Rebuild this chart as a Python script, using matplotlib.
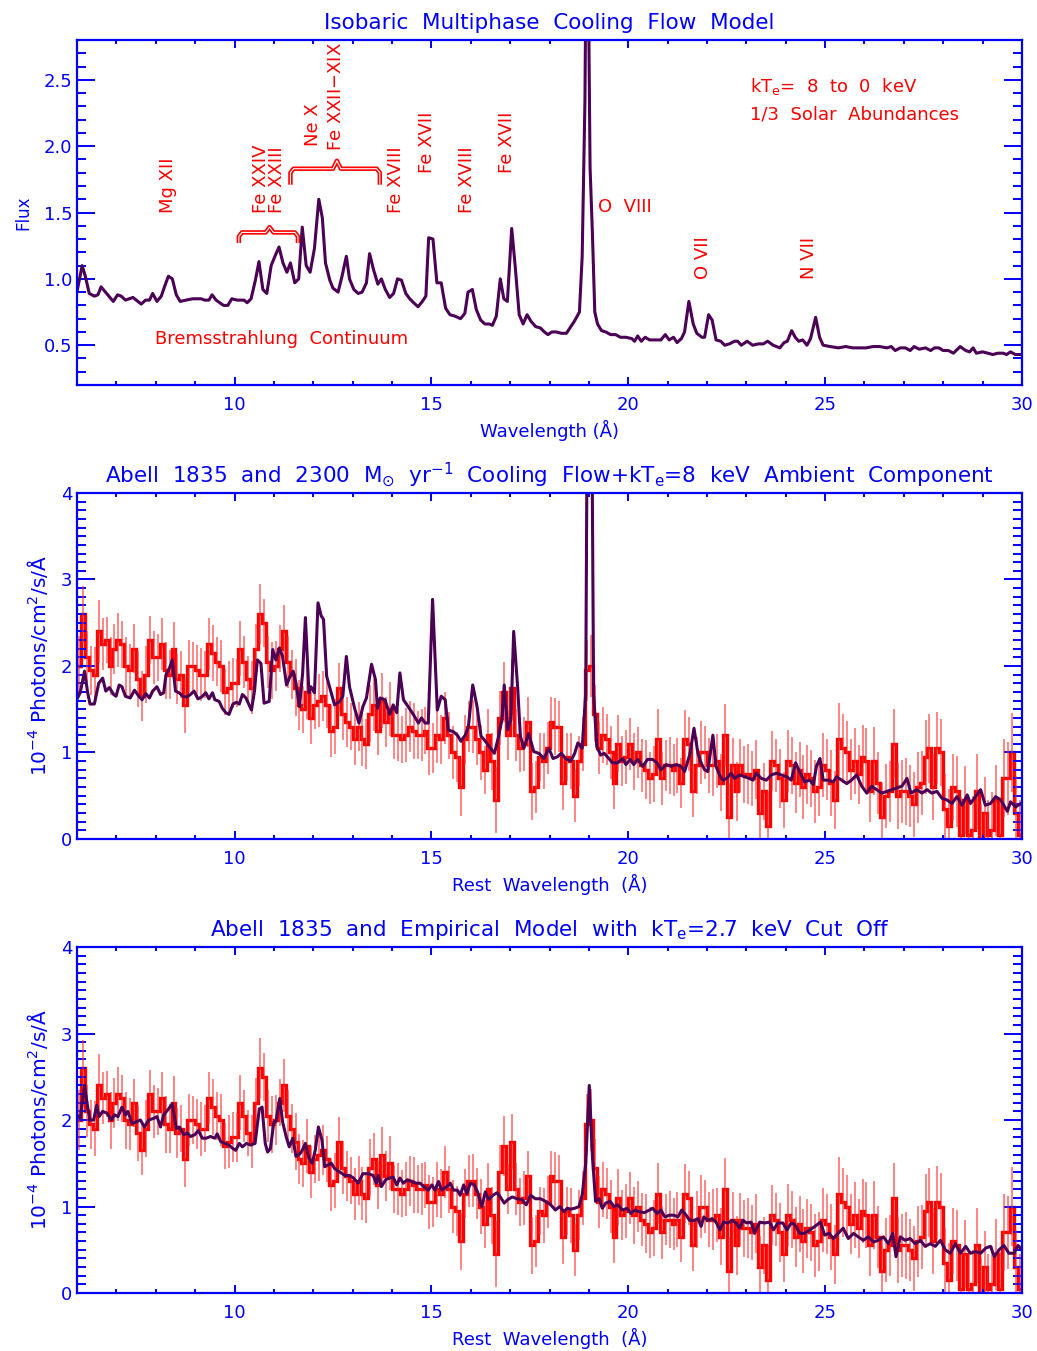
import numpy as np
import matplotlib
matplotlib.use("Agg")
import matplotlib.pyplot as plt
from matplotlib.ticker import MultipleLocator, FormatStrFormatter

plt.rcParams['font.family'] = ['DejaVu Sans']
plt.rcParams['mathtext.fontset'] = 'dejavusans'

BLUE = '#0000ff'
PURPLE = '#4b0055'
RED = '#ff0000'

# ---- panel 1 : isobaric cooling flow model ----
cf_wave = [5.99, 6.13, 6.21, 6.31, 6.44, 6.53, 6.61, 6.78, 6.92, 7.03, 7.12, 7.23, 7.42, 7.63, 7.74, 7.84,
           7.92, 8.03, 8.14, 8.22, 8.32, 8.42, 8.52, 8.62, 8.77, 8.94, 9.15, 9.24, 9.35, 9.43, 9.53, 9.72,
           9.83, 9.93, 10.06, 10.24, 10.32, 10.42, 10.53, 10.62, 10.72, 10.82, 10.93, 11.04, 11.13, 11.23,
           11.33, 11.42, 11.53, 11.63, 11.72, 11.82, 11.92, 12.03, 12.14, 12.23, 12.31, 12.42, 12.5, 12.63,
           12.73, 12.84, 12.92, 13.03, 13.14, 13.24, 13.35, 13.43, 13.53, 13.64, 13.73, 13.83, 13.94, 14.04,
           14.14, 14.24, 14.35, 14.45, 14.55, 14.66, 14.77, 14.86, 14.93, 15.04, 15.14, 15.25, 15.36, 15.47,
           15.59, 15.74, 15.85, 15.93, 16.04, 16.14, 16.25, 16.36, 16.47, 16.55, 16.65, 16.75, 16.84, 16.93,
           17.04, 17.13, 17.23, 17.33, 17.43, 17.53, 17.65, 17.77, 17.87, 17.96, 18.06, 18.17, 18.3, 18.43,
           18.52, 18.63, 18.76, 18.83, 18.9, 18.93, 18.98, 19.03, 19.09, 19.15, 19.22, 19.32, 19.43, 19.55,
           19.68, 19.8, 19.94, 20.09, 20.16, 20.24, 20.33, 20.43, 20.54, 20.7, 20.83, 20.94, 21.04, 21.15,
           21.24, 21.35, 21.43, 21.54, 21.65, 21.74, 21.87, 21.94, 22.04, 22.13, 22.23, 22.35, 22.45, 22.57,
           22.7, 22.78, 22.87, 23.02, 23.16, 23.3, 23.43, 23.54, 23.68, 23.85, 23.96, 24.04, 24.15, 24.24,
           24.33, 24.43, 24.54, 24.63, 24.76, 24.86, 24.95, 25.13, 25.34, 25.52, 25.7, 25.87, 26.04, 26.22,
           26.39, 26.57, 26.68, 26.78, 26.91, 27.04, 27.16, 27.26, 27.39, 27.55, 27.68, 27.78, 27.89, 28.0,
           28.13, 28.26, 28.43, 28.57, 28.67, 28.76, 28.84, 29.0, 29.13, 29.26, 29.39, 29.52, 29.61, 29.71,
           29.83, 29.96, 30.0]
cf_flux = [0.89, 1.1, 1.02, 0.89, 0.87, 0.88, 0.94, 0.88, 0.83, 0.88, 0.87, 0.84, 0.86, 0.81, 0.84, 0.84,
           0.89, 0.83, 0.87, 0.94, 1.02, 1.0, 0.88, 0.83, 0.84, 0.85, 0.85, 0.84, 0.84, 0.88, 0.84, 0.8,
           0.8, 0.85, 0.84, 0.84, 0.82, 0.85, 0.99, 1.13, 0.92, 0.89, 1.1, 1.18, 1.24, 1.12,
           1.05, 1.12, 0.97, 1.0, 1.39, 1.1, 1.05, 1.23, 1.6, 1.46, 1.12, 0.99, 0.93, 0.9,
           1.02, 1.17, 1.0, 0.92, 0.89, 0.9, 0.97, 1.19, 1.07, 0.96, 1.0, 0.92, 0.86, 0.89,
           1.0, 0.99, 0.89, 0.85, 0.82, 0.79, 0.83, 0.87, 1.31, 1.3, 0.97, 0.97, 0.78, 0.73,
           0.72, 0.7, 0.74, 0.9, 0.92, 0.77, 0.69, 0.66, 0.66, 0.65, 0.72, 1.0, 0.85, 0.83,
           1.38, 1.09, 0.73, 0.66, 0.73, 0.68, 0.64, 0.63, 0.6, 0.58, 0.6, 0.6, 0.59, 0.59,
           0.63, 0.68, 0.75, 1.17, 2.34, 3.5, 3.5, 1.84, 1.34, 0.75, 0.66, 0.61, 0.6, 0.58,
           0.58, 0.56, 0.56, 0.55, 0.53, 0.57, 0.53, 0.56, 0.54, 0.54, 0.54, 0.58, 0.54, 0.56,
           0.52, 0.55, 0.6, 0.83, 0.66, 0.59, 0.56, 0.56, 0.73, 0.69, 0.54, 0.53, 0.5, 0.51,
           0.53, 0.53, 0.5, 0.53, 0.5, 0.51, 0.51, 0.53, 0.5, 0.48, 0.52, 0.53, 0.61, 0.56,
           0.53, 0.54, 0.5, 0.55, 0.71, 0.56, 0.5, 0.49, 0.48, 0.49, 0.48, 0.48, 0.48, 0.49,
           0.49, 0.48, 0.49, 0.46, 0.48, 0.48, 0.46, 0.49, 0.47, 0.48, 0.46, 0.48, 0.48, 0.46,
           0.46, 0.44, 0.49, 0.46, 0.45, 0.48, 0.44, 0.45, 0.44, 0.43, 0.44, 0.44, 0.43, 0.45,
           0.43, 0.43, 0.43]

# ---- observed Abell 1835 spectrum, 0.1 A bins from 6 to 30 A ----
obs_start, obs_bin = 6.0, 0.1
obs_flux = [2.0, 2.6, 2.1, 1.95, 1.9, 2.4, 2.25, 2.3, 2.0, 2.2,
            2.3, 2.25, 2.0, 1.95, 2.2, 1.85, 1.65, 1.9, 2.3, 2.1,
            2.1, 2.25, 1.95, 1.9, 2.2, 1.85, 1.9, 1.55, 2.0, 2.0,
            1.95, 1.9, 1.9, 2.25, 2.15, 2.05, 2.0, 1.7, 1.75, 1.8,
            1.8, 2.2, 2.05, 1.85, 1.75, 2.2, 2.6, 2.5, 2.05, 1.95,
            2.0, 2.2, 2.4, 2.05, 1.9, 1.75, 1.55, 1.5, 1.7, 1.4,
            1.55, 1.6, 1.65, 1.55, 1.25, 1.3, 1.75, 1.45, 1.35, 1.3,
            1.15, 1.3, 1.15, 1.1, 1.45, 1.55, 1.25, 1.6, 1.35, 1.5,
            1.2, 1.2, 1.15, 1.2, 1.3, 1.25, 1.2, 1.2, 1.25, 1.05,
            1.05, 1.2, 1.15, 1.4, 1.2, 1.0, 0.95, 0.6, 1.15, 1.3,
            1.3, 1.15, 1.0, 0.8, 1.2, 0.9, 0.45, 1.4, 1.7, 1.2,
            1.75, 1.2, 1.05, 1.1, 1.35, 0.55, 0.6, 0.95, 0.9, 1.05,
            1.35, 1.3, 1.3, 0.65, 0.95, 0.9, 0.5, 0.9, 1.1, 1.95,
            2.0, 1.45, 1.05, 1.2, 1.15, 1.0, 0.65, 1.1, 0.9, 0.95,
            1.1, 0.9, 1.0, 0.85, 0.8, 0.7, 0.75, 1.15, 0.7, 0.85,
            0.85, 0.8, 0.85, 0.65, 1.15, 1.1, 0.55, 0.85, 1.0, 1.0,
            0.85, 0.85, 0.9, 0.65, 1.2, 0.25, 0.85, 0.55, 0.85, 0.75,
            0.75, 0.7, 0.8, 0.3, 0.55, 0.15, 0.9, 0.85, 0.7, 0.45,
            0.9, 0.85, 0.65, 0.8, 0.6, 0.75, 0.7, 0.55, 0.6, 0.85,
            0.8, 0.65, 0.45, 1.15, 1.05, 1.0, 0.8, 0.9, 0.75, 0.95,
            0.9, 0.55, 0.9, 0.65, 0.25, 0.5, 0.55, 1.1, 0.5, 0.55,
            0.55, 0.5, 0.4, 0.6, 0.65, 0.95, 1.05, 0.6, 1.05, 1.0,
            0.35, 0.15, 0.6, 0.55, 0.05, 0.45, 0.05, 0.1, 0.55, 0.0,
            0.3, 0.05, 0.1, 0.45, 0.05, 0.7, 0.7, 1.0, 0.3, 0.05]
obs_err = [0.35, 0.33, 0.30, 0.28, 0.32, 0.36, 0.30, 0.27, 0.33, 0.29,
           0.31, 0.27, 0.33, 0.30, 0.28, 0.32, 0.29, 0.33, 0.28, 0.31,
           0.27, 0.30, 0.33, 0.28, 0.31, 0.29, 0.27, 0.32, 0.30, 0.28,
           0.29, 0.31, 0.27, 0.30, 0.32, 0.28, 0.30, 0.27, 0.31, 0.29,
           0.28, 0.32, 0.30, 0.27, 0.31, 0.29, 0.35, 0.28, 0.30, 0.33,
           0.29, 0.27, 0.31, 0.30, 0.28, 0.33, 0.29, 0.27, 0.31, 0.30,
           0.28, 0.31, 0.29, 0.27, 0.30, 0.32, 0.28, 0.31, 0.29, 0.27,
           0.30, 0.28, 0.31, 0.29, 0.33, 0.30, 0.28, 0.32, 0.29, 0.31,
           0.28, 0.30, 0.27, 0.31, 0.29, 0.32, 0.28, 0.30, 0.27, 0.31,
           0.29, 0.32, 0.28, 0.30, 0.27, 0.31, 0.29, 0.33, 0.28, 0.30,
           0.31, 0.29, 0.32, 0.28, 0.30, 0.33, 0.38, 0.31, 0.35, 0.29,
           0.32, 0.30, 0.28, 0.31, 0.29, 0.33, 0.30, 0.28, 0.32, 0.30,
           0.29, 0.33, 0.30, 0.31, 0.28, 0.32, 0.30, 0.29, 0.31, 0.35,
           0.36, 0.33, 0.30, 0.32, 0.29, 0.31, 0.30, 0.33, 0.29, 0.31,
           0.30, 0.33, 0.29, 0.31, 0.34, 0.30, 0.32, 0.35, 0.31, 0.29,
           0.33, 0.30, 0.32, 0.29, 0.34, 0.31, 0.30, 0.33, 0.36, 0.31,
           0.32, 0.35, 0.31, 0.33, 0.36, 0.40, 0.32, 0.34, 0.31, 0.33,
           0.35, 0.32, 0.34, 0.36, 0.33, 0.40, 0.35, 0.31, 0.34, 0.32,
           0.36, 0.33, 0.35, 0.32, 0.37, 0.34, 0.33, 0.36, 0.34, 0.37,
           0.35, 0.38, 0.34, 0.42, 0.40, 0.36, 0.35, 0.38, 0.34, 0.37,
           0.38, 0.35, 0.39, 0.36, 0.40, 0.37, 0.35, 0.40, 0.38, 0.36,
           0.39, 0.36, 0.38, 0.41, 0.37, 0.43, 0.40, 0.38, 0.42, 0.39,
           0.40, 0.43, 0.38, 0.41, 0.44, 0.39, 0.42, 0.40, 0.43, 0.41,
           0.42, 0.40, 0.44, 0.41, 0.43, 0.45, 0.42, 0.46, 0.43, 0.40]

# ---- panel 2 model : 2300 Msun/yr cooling flow + 8 keV ambient ----
m2_wave = [5.99, 6.08, 6.19, 6.27, 6.33, 6.44, 6.55, 6.65, 6.73, 6.82, 6.93, 6.99, 7.07, 7.14, 7.23, 7.35,
           7.46, 7.57, 7.65, 7.75, 7.84, 7.92, 8.03, 8.12, 8.2, 8.26, 8.35, 8.42, 8.5, 8.59, 8.69, 8.78,
           8.88, 8.97, 9.07, 9.16, 9.27, 9.35, 9.44, 9.5, 9.61, 9.69, 9.78, 9.86, 9.96, 10.05, 10.12, 10.2,
           10.29, 10.37, 10.43, 10.5, 10.58, 10.67, 10.75, 10.88, 10.97, 11.05, 11.14, 11.22, 11.32, 11.41,
           11.49, 11.56, 11.65, 11.73, 11.8, 11.89, 11.94, 12.03, 12.12, 12.2, 12.26, 12.34, 12.43, 12.54,
           12.67, 12.75, 12.84, 12.92, 13.05, 13.16, 13.26, 13.35, 13.48, 13.58, 13.63, 13.7, 13.82, 13.94,
           14.03, 14.12, 14.2, 14.29, 14.41, 14.54, 14.67, 14.75, 14.84, 14.92, 15.03, 15.15, 15.25, 15.35,
           15.43, 15.56, 15.66, 15.75, 15.86, 15.94, 16.05, 16.16, 16.26, 16.37, 16.5, 16.6, 16.71, 16.79,
           16.85, 16.94, 17.02, 17.09, 17.19, 17.26, 17.35, 17.47, 17.6, 17.73, 17.86, 17.98, 18.09, 18.2,
           18.3, 18.41, 18.54, 18.64, 18.72, 18.83, 18.92, 18.97, 19.06, 19.12, 19.2, 19.3, 19.39, 19.47,
           19.6, 19.73, 19.86, 19.94, 20.05, 20.14, 20.24, 20.37, 20.49, 20.62, 20.73, 20.83, 20.96, 21.09,
           21.22, 21.34, 21.43, 21.56, 21.67, 21.77, 21.85, 21.94, 22.02, 22.15, 22.23, 22.32, 22.4, 22.5,
           22.61, 22.7, 22.83, 22.95, 23.08, 23.17, 23.25, 23.38, 23.51, 23.63, 23.76, 23.89, 24.02, 24.14,
           24.25, 24.37, 24.48, 24.61, 24.7, 24.78, 24.87, 24.95, 25.08, 25.21, 25.29, 25.42, 25.55, 25.67,
           25.8, 25.93, 26.06, 26.18, 26.31, 26.44, 26.57, 26.69, 26.82, 26.95, 27.08, 27.18, 27.33, 27.46,
           27.59, 27.71, 27.84, 27.97, 28.1, 28.22, 28.35, 28.48, 28.61, 28.69, 28.82, 28.95, 29.07, 29.2,
           29.33, 29.46, 29.63, 29.71, 29.84, 29.97, 30.0]
m2_flux = [1.61, 1.69, 1.94, 1.69, 1.56, 1.56, 1.8, 1.86, 1.71, 1.75, 1.67, 1.65, 1.78, 1.76, 1.65, 1.63,
           1.72, 1.65, 1.61, 1.68, 1.63, 1.71, 1.76, 1.67, 1.69, 1.9, 1.98, 2.07, 1.71, 1.69, 1.65, 1.64,
           1.67, 1.71, 1.62, 1.64, 1.69, 1.62, 1.69, 1.61, 1.59, 1.51, 1.46, 1.44, 1.56, 1.58, 1.56, 1.67,
           1.63, 1.55, 1.49, 1.69, 2.07, 2.03, 1.57, 1.59, 2.19, 2.07, 2.21, 2.11, 1.78, 1.88,
           1.94, 1.8, 1.53, 1.92, 2.56, 1.69, 1.76, 1.69, 2.73, 2.58, 2.54, 1.88, 1.73, 1.55,
           1.59, 1.65, 2.11, 1.76, 1.51, 1.34, 1.53, 1.63, 2.02, 1.84, 1.51, 1.63, 1.61, 1.44,
           1.55, 1.46, 1.92, 1.61, 1.53, 1.44, 1.34, 1.4, 1.34, 1.34, 2.77, 1.49, 1.65, 1.61,
           1.26, 1.24, 1.2, 1.13, 1.2, 1.3, 1.78, 1.53, 1.19, 1.13, 1.05, 0.99, 1.19, 1.38,
           1.78, 1.26, 1.38, 2.4, 1.76, 1.19, 1.05, 1.22, 1.01, 0.99, 0.93, 1.05, 0.93, 0.95,
           0.99, 0.93, 0.9, 0.99, 1.11, 1.05, 1.69, 6.0, 6.0, 1.69, 1.07, 0.97, 0.99, 0.95,
           0.88, 0.88, 0.93, 0.86, 0.92, 0.86, 0.92, 0.84, 0.92, 0.92, 0.88, 0.8, 0.86, 0.84,
           0.86, 0.84, 0.78, 0.97, 1.28, 0.99, 0.88, 0.8, 0.78, 1.2, 0.84, 0.74, 0.68, 0.7,
           0.76, 0.7, 0.74, 0.72, 0.7, 0.68, 0.76, 0.7, 0.68, 0.74, 0.76, 0.74, 0.72, 0.68,
           0.88, 0.76, 0.66, 0.68, 0.63, 0.84, 0.93, 0.68, 0.68, 0.66, 0.72, 0.68, 0.64, 0.68,
           0.74, 0.61, 0.53, 0.61, 0.57, 0.53, 0.55, 0.57, 0.59, 0.61, 0.7, 0.53, 0.57, 0.53,
           0.57, 0.53, 0.55, 0.47, 0.45, 0.41, 0.49, 0.39, 0.51, 0.41, 0.49, 0.57, 0.39, 0.41,
           0.49, 0.45, 0.32, 0.43, 0.37, 0.41, 0.4]

# ---- panel 3 model : empirical model with 2.7 keV cut off ----
m3_wave = [5.99, 6.08, 6.19, 6.27, 6.33, 6.42, 6.5, 6.56, 6.65, 6.76, 6.87, 6.95, 7.04, 7.14, 7.23, 7.29,
           7.4, 7.5, 7.61, 7.71, 7.82, 7.95, 8.03, 8.12, 8.2, 8.31, 8.42, 8.52, 8.6, 8.71, 8.8, 8.88,
           8.99, 9.08, 9.18, 9.28, 9.39, 9.5, 9.56, 9.65, 9.76, 9.86, 9.96, 10.03, 10.12, 10.2, 10.3, 10.41,
           10.52, 10.63, 10.7, 10.78, 10.84, 10.91, 11.0, 11.05, 11.15, 11.22, 11.31, 11.39, 11.48, 11.56,
           11.66, 11.72, 11.8, 11.89, 11.97, 12.05, 12.13, 12.22, 12.29, 12.37, 12.46, 12.54, 12.67, 12.8,
           12.92, 13.02, 13.14, 13.26, 13.39, 13.52, 13.6, 13.65, 13.73, 13.84, 13.94, 14.03, 14.12, 14.2,
           14.29, 14.39, 14.5, 14.61, 14.71, 14.81, 14.92, 15.01, 15.09, 15.18, 15.26, 15.39, 15.48, 15.56,
           15.66, 15.73, 15.82, 15.9, 15.99, 16.09, 16.17, 16.28, 16.37, 16.45, 16.56, 16.67, 16.75, 16.85,
           16.94, 17.05, 17.18, 17.3, 17.41, 17.52, 17.64, 17.77, 17.9, 18.03, 18.15, 18.26, 18.37, 18.45,
           18.54, 18.64, 18.75, 18.83, 18.92, 19.01, 19.09, 19.17, 19.26, 19.34, 19.43, 19.54, 19.64, 19.73,
           19.85, 19.97, 20.07, 20.17, 20.28, 20.41, 20.54, 20.62, 20.73, 20.83, 20.93, 21.05, 21.16, 21.26,
           21.36, 21.47, 21.56, 21.68, 21.77, 21.85, 21.92, 22.02, 22.13, 22.23, 22.33, 22.42, 22.53, 22.64,
           22.74, 22.83, 22.91, 23.01, 23.12, 23.21, 23.34, 23.46, 23.59, 23.69, 23.8, 23.93, 24.03, 24.14,
           24.23, 24.36, 24.48, 24.61, 24.74, 24.88, 24.99, 25.1, 25.21, 25.33, 25.46, 25.59, 25.72, 25.84,
           25.97, 26.1, 26.23, 26.35, 26.48, 26.61, 26.72, 26.8, 26.91, 27.03, 27.16, 27.29, 27.42, 27.54,
           27.67, 27.8, 27.93, 28.05, 28.18, 28.31, 28.44, 28.57, 28.69, 28.82, 28.95, 29.08, 29.2, 29.3,
           29.42, 29.54, 29.67, 29.8, 29.9, 30.0]
m3_flux = [2.06, 2.02, 2.4, 2.15, 2.0, 2.0, 2.17, 2.04, 2.1, 2.08, 2.0, 2.06, 2.04, 2.15, 2.06, 2.1,
           1.96, 1.98, 2.0, 1.92, 2.0, 2.02, 2.04, 1.92, 2.06, 2.12, 2.19, 1.9, 1.92, 1.83, 1.85, 1.81,
           1.83, 1.88, 1.79, 1.79, 1.81, 1.79, 1.84, 1.75, 1.73, 1.71, 1.67, 1.65, 1.73, 1.69, 1.73, 1.71,
           1.73, 2.13, 2.15, 1.73, 1.63, 1.67, 1.98, 1.98, 2.25, 1.98, 1.81, 1.69, 1.79, 1.58,
           1.61, 1.65, 1.73, 1.56, 1.5, 1.65, 1.92, 1.77, 1.46, 1.48, 1.5, 1.44, 1.4, 1.36,
           1.36, 1.33, 1.27, 1.38, 1.38, 1.36, 1.27, 1.36, 1.23, 1.31, 1.33, 1.34, 1.25, 1.33,
           1.27, 1.31, 1.29, 1.27, 1.27, 1.23, 1.19, 1.25, 1.19, 1.29, 1.19, 1.23, 1.27, 1.19,
           1.19, 1.13, 1.25, 1.15, 1.27, 1.25, 1.17, 1.0, 1.17, 1.08, 1.13, 1.16, 1.11, 1.04,
           1.08, 1.11, 1.09, 1.08, 1.02, 1.13, 1.09, 1.09, 1.06, 1.02, 0.96, 1.0, 0.94, 0.98,
           0.97, 0.98, 1.0, 1.13, 1.5, 2.4, 1.58, 1.06, 1.09, 0.98, 1.04, 1.06, 1.0, 1.02,
           0.96, 0.98, 0.92, 0.96, 0.94, 0.93, 0.96, 0.98, 0.92, 0.96, 0.88, 0.9, 0.9, 0.88,
           0.96, 0.9, 0.84, 0.84, 0.86, 0.77, 0.88, 0.84, 0.86, 0.82, 0.73, 0.82, 0.81, 0.84,
           0.81, 0.75, 0.84, 0.81, 0.82, 0.69, 0.82, 0.81, 0.82, 0.73, 0.81, 0.81, 0.73, 0.81,
           0.79, 0.69, 0.69, 0.73, 0.77, 0.82, 0.67, 0.69, 0.63, 0.69, 0.75, 0.63, 0.69, 0.65,
           0.61, 0.65, 0.59, 0.61, 0.65, 0.57, 0.69, 0.42, 0.65, 0.61, 0.63, 0.57, 0.61, 0.54,
           0.57, 0.54, 0.61, 0.5, 0.46, 0.57, 0.46, 0.54, 0.46, 0.48, 0.46, 0.52, 0.54, 0.42,
           0.5, 0.55, 0.46, 0.46, 0.55, 0.5]

# line identifications in panel 1: (label, wavelength, base flux)
line_ids = [("Mg XII", 8.3, 1.5), ("Fe XXIV", 10.67, 1.5), ("Fe XXIII", 11.08, 1.5),
            ("Ne X", 12.0, 2.0), ("Fe XXII$-$XIX", 12.58, 1.96), ("Fe XVIII", 14.09, 1.5),
            ("Fe XVII", 14.9, 1.8), ("Fe XVIII", 15.9, 1.5), ("Fe XVII", 16.92, 1.8),
            ("O VII", 21.9, 1.0), ("N VII", 24.6, 1.0)]


def style_axes(ax, ymin, ymax, ymajor, yminor, yfmt):
    ax.set_xlim(6, 30)
    ax.set_ylim(ymin, ymax)
    ax.xaxis.set_major_locator(MultipleLocator(5))
    ax.xaxis.set_minor_locator(MultipleLocator(1))
    ax.yaxis.set_major_locator(MultipleLocator(ymajor))
    ax.yaxis.set_minor_locator(MultipleLocator(yminor))
    ax.yaxis.set_major_formatter(FormatStrFormatter(yfmt))
    for s in ax.spines.values():
        s.set_color(BLUE)
        s.set_linewidth(1.6)
    ax.tick_params(which='both', direction='in', top=True, right=True, color=BLUE,
                   labelcolor=BLUE, labelsize=13, width=1.4)
    ax.tick_params(axis='y', which='major', length=13)
    ax.tick_params(axis='y', which='minor', length=6.5)
    ax.tick_params(axis='x', which='major', length=5.5, pad=8)
    ax.tick_params(axis='x', which='minor', length=3)


def brace(ax, x0, x1, xm, y_end, y_bar, y_peak):
    bx = [x0, x0, x0 + 0.08, xm - 0.1, xm, xm + 0.1, x1 - 0.08, x1, x1]
    by = [y_end, y_bar - 0.03, y_bar, y_bar, y_peak, y_bar, y_bar, y_bar - 0.03, y_end]
    ax.plot(bx, by, color=RED, lw=3.2, solid_joinstyle='round', solid_capstyle='butt')
    ax.plot(bx, by, color='white', lw=0.8, solid_joinstyle='round', solid_capstyle='butt')


fig = plt.figure(figsize=(10.37, 13.51), dpi=100)
ax1 = fig.add_axes([0.0743, 0.715, 0.9112, 0.2554])
ax2 = fig.add_axes([0.0743, 0.379, 0.9112, 0.2561])
ax3 = fig.add_axes([0.0743, 0.0429, 0.9112, 0.2561])

# panel 1
ax1.plot(cf_wave, cf_flux, color=PURPLE, lw=2.2)
style_axes(ax1, 0.2, 2.8, 0.5, 0.1, '%.1f')
ax1.set_title("Isobaric  Multiphase  Cooling  Flow  Model", color=BLUE, fontsize=15.5, pad=8)
ax1.set_xlabel("Wavelength (Å)", color=BLUE, fontsize=13, labelpad=4)
ax1.set_ylabel("Flux", color=BLUE, fontsize=12, labelpad=8)
for lab, wl, fl in line_ids:
    ax1.text(wl, fl, lab, rotation=90, ha='center', va='bottom', color=RED, fontsize=13)
ax1.text(19.22, 1.545, "O  VIII", ha='left', va='center', color=RED, fontsize=13)
ax1.text(23.1, 2.45, "kT$_{\\rm e}$=  8  to  0  keV", ha='left', va='center', color=RED, fontsize=13)
ax1.text(23.1, 2.24, "1/3  Solar  Abundances", ha='left', va='center', color=RED, fontsize=13)
ax1.text(7.99, 0.545, "Bremsstrahlung  Continuum", ha='left', va='center', color=RED, fontsize=13)
brace(ax1, 10.11, 11.61, 10.89, 1.27, 1.35, 1.39)
brace(ax1, 11.42, 13.69, 12.6, 1.71, 1.83, 1.89)

# panels 2 and 3: observed data + model
obs_flux_a = np.array(obs_flux)
obs_err_a = np.array(obs_err)
edges = obs_start + obs_bin * np.arange(len(obs_flux) + 1)
centres = 0.5 * (edges[:-1] + edges[1:])

titles = ["Abell  1835  and  2300  M$_{\\odot}$  yr$^{-1}$  Cooling  Flow+kT$_{\\rm e}$=8  keV  Ambient  Component",
          "Abell  1835  and  Empirical  Model  with  kT$_{\\rm e}$=2.7  keV  Cut  Off"]
models = [(m2_wave, m2_flux), (m3_wave, m3_flux)]
for ax, title, (mw, mf) in zip([ax2, ax3], titles, models):
    ax.errorbar(centres, obs_flux_a, yerr=obs_err_a, fmt='none', ecolor=(1.0, 0.15, 0.15, 0.6),
                elinewidth=1.3)
    ax.stairs(obs_flux_a, edges, color=RED, lw=2.4, baseline=None)
    ax.plot(mw, mf, color=PURPLE, lw=2.2)
    style_axes(ax, 0, 4, 1, 0.1, '%d')
    ax.set_title(title, color=BLUE, fontsize=15.5, pad=8)
    ax.set_xlabel("Rest  Wavelength  (Å)", color=BLUE, fontsize=13, labelpad=4)
    ax.set_ylabel("10$^{-4}$ Photons/cm$^2$/s/Å", color=BLUE, fontsize=14.5, labelpad=8)

fig.savefig("out.png", dpi=100)
